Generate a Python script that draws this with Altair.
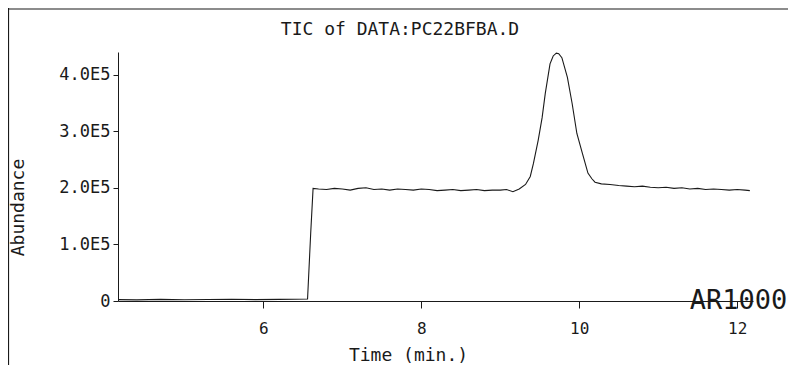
import altair as alt
import pandas as pd

# ---- data ----
time_min = [4.16, 4.4, 4.7, 5.0, 5.3, 5.6, 5.9, 6.2, 6.4, 6.56, 6.60, 6.63,
            6.7, 6.8, 6.9, 7.0, 7.1, 7.2, 7.3, 7.4, 7.5, 7.6, 7.7, 7.8, 7.9,
            8.0, 8.1, 8.2, 8.3, 8.4, 8.5, 8.6, 8.7, 8.8, 8.9, 9.0, 9.08, 9.16,
            9.24, 9.32, 9.38, 9.42, 9.48, 9.53, 9.57, 9.63, 9.67, 9.71, 9.74,
            9.78, 9.85, 9.91, 9.97, 10.04, 10.11, 10.16, 10.20, 10.28, 10.39,
            10.5, 10.6, 10.7, 10.8, 10.9, 11.0, 11.1, 11.2, 11.3, 11.4, 11.5,
            11.6, 11.7, 11.8, 11.9, 12.0, 12.1, 12.16]
abundance = [2500, 2000, 2800, 2200, 2600, 3000, 2400, 2800, 3200, 3500, 120000, 199000,
             198000, 197000, 199000, 198000, 196000, 199000, 200000, 197000, 198000, 196000, 198000, 197000, 196000,
             198000, 197000, 195000, 196000, 197000, 195000, 196000, 197000, 195000, 196000, 196000, 197000, 193000,
             198000, 206000, 220000, 243000, 284000, 324000, 367000, 419000, 433000, 438000, 437000,
             430000, 395000, 349000, 296000, 261000, 226000, 216000, 210000, 207000, 206000,
             204000, 203000, 202000, 203000, 201000, 200000, 201000, 199000, 200000, 198000, 199000,
             197000, 198000, 197000, 196000, 197000, 196000, 195000]

y_ticks = [0, 100000, 200000, 300000, 400000]
x_ticks = [6, 8, 10, 12]
title_text = "TIC of DATA:PC22BFBA.D"
y_title = "Abundance"
x_title = "Time (min.)"
stamp = "AR1000"

FONT = "DejaVu Sans Mono"
INK = "#1a1a1a"

df = pd.DataFrame({"t": time_min, "a": abundance})

xscale = alt.Scale(domain=[4.16, 12.2], nice=False, zero=False)
yscale = alt.Scale(domain=[0, 440000], nice=False)

line = alt.Chart(df).mark_line(color=INK, strokeWidth=1.1, clip=False).encode(
    x=alt.X("t:Q", scale=xscale,
            axis=alt.Axis(values=x_ticks, format="d", title=x_title, grid=False,
                          labelFont=FONT, labelFontSize=16, labelColor=INK,
                          tickColor=INK, tickSize=7, domainColor=INK,
                          labelPadding=12, titleFont=FONT, titleFontSize=18,
                          titleFontWeight="normal", titleColor=INK,
                          titleX=290, titleY=54, titleBaseline="middle",
                          titleAlign="center")),
    y=alt.Y("a:Q", scale=yscale,
            axis=alt.Axis(values=y_ticks, title=y_title, grid=False,
                          labelExpr="datum.value == 0 ? '0' : format(datum.value / 100000, '.1f') + 'E5'",
                          labelFont=FONT, labelFontSize=17, labelColor=INK,
                          tickColor=INK, tickSize=5, domainColor=INK,
                          labelPadding=3, titleFont=FONT, titleFontSize=18,
                          titleFontWeight="normal", titleColor=INK,
                          titleX=-100, titleY=155, titleBaseline="middle",
                          titleAlign="center")),
)

stamp_df = pd.DataFrame({"t": [11.40], "a": [0], "label": [stamp]})
stamp_mark = alt.Chart(stamp_df).mark_text(
    font=FONT, fontSize=27, color=INK, align="left", baseline="middle", clip=False
).encode(x=alt.X("t:Q", scale=xscale), y=alt.Y("a:Q", scale=yscale), text="label:N")

title_mark = alt.Chart(pd.DataFrame({"label": [title_text]})).mark_text(
    font=FONT, fontSize=18, color=INK, align="center", baseline="middle"
).encode(x=alt.value(282), y=alt.value(-22), text="label:N")

top_border = alt.Chart(pd.DataFrame({"k": [0]})).mark_rule(color=INK, strokeWidth=1.2).encode(
    x=alt.value(-110), x2=alt.value(670), y=alt.value(-43))
left_border = alt.Chart(pd.DataFrame({"k": [0]})).mark_rule(color=INK, strokeWidth=1.2).encode(
    x=alt.value(-109.5), y=alt.value(-44), y2=alt.value(313))

chart = alt.layer(line, stamp_mark, title_mark, top_border, left_border).properties(
    width=635, height=249,
    autosize=alt.AutoSizeParams(type="none"),
    padding={"left": 110, "top": 44, "right": 35, "bottom": 64},
).configure(background="white").configure_view(stroke=None)

chart.save("out.html", embed_options={"renderer": "svg", "actions": False})
